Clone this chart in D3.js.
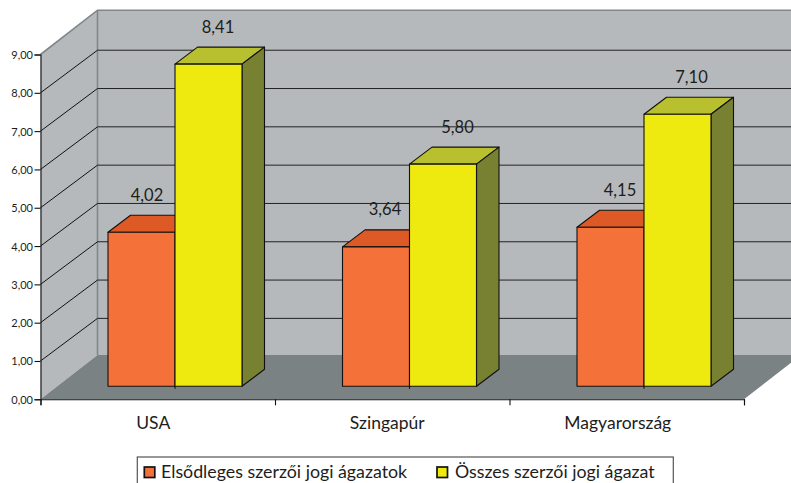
<!DOCTYPE html>
<html><head><meta charset="utf-8">
<script src="https://cdn.jsdelivr.net/npm/d3@7/dist/d3.min.js"></script>
<style>html,body{margin:0;padding:0;background:#fff;overflow:hidden}svg{display:block}text{font-family:Lato,"Open Sans",sans-serif;fill:#1d1d1b}</style>
</head><body><svg id="c" width="791" height="483"></svg>
<script>
const categories = ["USA", "Szingapúr", "Magyarország"];
const seriesNames = ["Elsődleges szerzői jogi ágazatok", "Összes szerzői jogi ágazat"];
const primaryValues = [4.02, 3.64, 4.15];
const totalValues = [8.41, 5.80, 7.10];
const yTicks = [0,1,2,3,4,5,6,7,8,9];

const svg = d3.select("#c");
const fmt = d3.format(".2f"), comma = v => fmt(v).replace(".", ",");
const x0 = 40.5, x1 = 744, yB = 399.3, yT = 54.5;
const wallDx = 57, wallDy = -44.3, gridDy = -42.6, barDx = 22.5, barDy = -17, barLift = -13;
const x = d3.scaleBand().domain(categories).range([x0, x1]);
const y = d3.scaleLinear().domain([0, 9]).range([yB, yT]);
const inner = d3.scaleBand().domain([0, 1]).range([67.5, 201.5]);
const P = pts => pts.map(p => p.join(",")).join(" ");
const wallC = "#b6b9bc", floorC = "#7a8283", edge = "#7f8788", ink = "#111";

// back wall, side wall, floor
svg.append("polygon").attr("points", P([[x0+wallDx,yT+wallDy],[830,yT+wallDy],[830,yB+wallDy],[x0+wallDx,yB+wallDy]])).attr("fill", wallC);
svg.append("polygon").attr("points", P([[x0,yT],[x0+wallDx,yT+wallDy],[x0+wallDx,yB+wallDy],[x0,yB]])).attr("fill", wallC);
svg.append("polygon").attr("points", P([[x0,yB],[x0+wallDx,yB+wallDy],[x1+wallDx,yB+wallDy],[x1,yB]])).attr("fill", floorC);

// wall edges
svg.append("polyline").attr("points", P([[x0,yT],[x0+wallDx,yT+wallDy],[791,yT+wallDy]])).attr("fill","none").attr("stroke",edge).attr("stroke-width",1.6);
svg.append("line").attr("x1",x0+wallDx).attr("x2",x0+wallDx).attr("y1",yT+wallDy).attr("y2",yB+wallDy).attr("stroke",edge).attr("stroke-width",1.6);

// grid
const grid = yTicks.filter(v => v > 0 && v < 9);
svg.selectAll(".gb").data(grid).join("line").attr("x1", x0+wallDx).attr("x2", 791)
  .attr("y1", d => y(d)+gridDy).attr("y2", d => y(d)+gridDy).attr("stroke", "#222").attr("stroke-width", 1);
svg.selectAll(".gs").data(grid).join("line").attr("x1", x0).attr("x2", x0+wallDx)
  .attr("y1", d => y(d)).attr("y2", d => y(d)+gridDy).attr("stroke", ink).attr("stroke-width", 1);

// axes
const gy = svg.append("g").attr("transform", `translate(${x0},0)`)
  .call(d3.axisLeft(y).tickValues(yTicks).tickFormat(comma).tickSize(6).tickPadding(1.5));
gy.selectAll("text").attr("font-size", 11).attr("dy", "0.36em");
const gx = svg.append("g").attr("transform", `translate(0,${yB})`)
  .call(d3.axisBottom(d3.scaleLinear().domain([0,3]).range([x0,x1])).tickValues([0,1,2,3]).tickFormat("").tickSize(6));
[gy,gx].forEach(g => { g.selectAll("path,line").attr("stroke", ink).attr("stroke-width", 1.1); });
const catDx = [-4.5, -5, -9];
categories.forEach((c, i) => svg.append("text").text(c).attr("x", x(c)+x.bandwidth()/2+catDx[i]).attr("y", 429).attr("text-anchor","middle").attr("font-size",17.5));

// bars
const colours = [{f:"#f4713a",t:"#dd5a26",s:"#b04a20"},{f:"#eee90f",t:"#b9c030",s:"#788032"}];
const zero = y(0) + barLift;
const labelDx = [[5.5,9.5],[9,14.5],[9.5,14]];
categories.forEach((c, i) => {
  [primaryValues[i], totalValues[i]].forEach((v, k) => {
    const L = x(c)+inner(k), R = L+inner.bandwidth(), top = y(v)+barLift;
    const col = colours[k], g = svg.append("g").attr("stroke","#111").attr("stroke-width",1.1).attr("stroke-linejoin","round");
    g.append("polygon").attr("points", P([[L,top],[L+barDx,top+barDy],[R+barDx,top+barDy],[R,top]])).attr("fill",col.t);
    g.append("polygon").attr("points", P([[R,top],[R+barDx,top+barDy],[R+barDx,zero+barDy],[R,zero]])).attr("fill",col.s);
    g.append("rect").attr("x",L).attr("y",top).attr("width",R-L).attr("height",zero-top).attr("fill",col.f);
  });
  const mid = x(c)+inner(1);
  svg.append("line").attr("x1",mid).attr("x2",mid).attr("y1",zero).attr("y2",zero+2.5).attr("stroke","#111").attr("stroke-width",1.1);
});
categories.forEach((c, i) => {
  [primaryValues[i], totalValues[i]].forEach((v, k) => {
    svg.append("text").text(comma(v)).attr("x", x(c)+inner(k)+inner.bandwidth()/2+labelDx[i][k]).attr("y", y(v)+barLift-31.5)
      .attr("text-anchor","middle").attr("font-size",16.5);
  });
});

// legend
svg.append("rect").attr("x",137.3).attr("y",457).attr("width",536).attr("height",40).attr("fill","#fff").attr("stroke","#555").attr("stroke-width",1.2);
const lx = [144.3, 437], tx = [161, 455];
seriesNames.forEach((n, k) => {
  svg.append("rect").attr("x",lx[k]).attr("y",467).attr("width",10.5).attr("height",10.5).attr("fill",colours[k].f).attr("stroke","#111").attr("stroke-width",1.7);
  svg.append("text").text(n).attr("x",tx[k]).attr("y",478).attr("font-size",17.8);
});
</script></body></html>
